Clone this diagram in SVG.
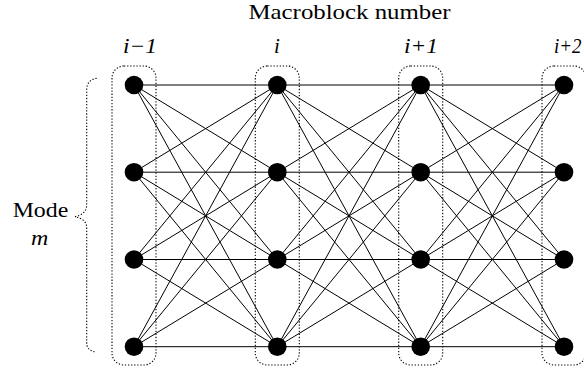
<svg xmlns="http://www.w3.org/2000/svg" width="584" height="372" viewBox="0 0 584 372">
<style>
.edge{stroke:#000;stroke-width:1;fill:none}
.dot{fill:none;stroke:#000;stroke-width:1.1;stroke-dasharray:1.3 1.8}
.node{fill:#000}
text{font-family:'Liberation Serif','DejaVu Serif',serif;font-size:21px;fill:#000}
.it{font-style:italic}
</style>
<rect width="584" height="372" fill="#fff"/>
<g id="title"><text x="248.5" y="18.8" textLength="202" lengthAdjust="spacingAndGlyphs">Macroblock number</text></g>
<g id="col-labels">
<text class="it" x="123" y="53.3" textLength="34" lengthAdjust="spacingAndGlyphs">i−1</text>
<text class="it" x="274" y="53.3">i</text>
<text class="it" x="404" y="53.3" textLength="34" lengthAdjust="spacingAndGlyphs">i+1</text>
<text class="it" x="554" y="53.3" textLength="27.5" lengthAdjust="spacingAndGlyphs">i+2</text>
</g>
<g id="mode-label">
<text x="12.7" y="216.7" textLength="55.6" lengthAdjust="spacingAndGlyphs">Mode</text>
<text class="it" x="31" y="245" textLength="17.3" lengthAdjust="spacingAndGlyphs">m</text>
<path class="dot" d="M96.7,78.3 Q86.7,80 86.7,90 L86.7,205 Q86.7,214 75,216.7 Q86.7,219 86.7,228 L86.7,343 Q86.7,351 96.5,352"/>
</g>
<g id="groups">
<rect class="dot" x="112" y="66" width="44" height="299" rx="12"/>
<rect class="dot" x="255.3" y="66" width="44" height="299" rx="12"/>
<rect class="dot" x="398.7" y="66" width="44" height="299" rx="12"/>
<rect class="dot" x="542" y="66" width="44" height="299" rx="12"/>
</g>
<g id="connectors" class="edge">
<line x1="134" y1="85" x2="277.3" y2="85"/><line x1="134" y1="85" x2="277.3" y2="172.2"/><line x1="134" y1="85" x2="277.3" y2="259.5"/><line x1="134" y1="85" x2="277.3" y2="346.7"/>
<line x1="134" y1="172.2" x2="277.3" y2="85"/><line x1="134" y1="172.2" x2="277.3" y2="172.2"/><line x1="134" y1="172.2" x2="277.3" y2="259.5"/><line x1="134" y1="172.2" x2="277.3" y2="346.7"/>
<line x1="134" y1="259.5" x2="277.3" y2="85"/><line x1="134" y1="259.5" x2="277.3" y2="172.2"/><line x1="134" y1="259.5" x2="277.3" y2="259.5"/><line x1="134" y1="259.5" x2="277.3" y2="346.7"/>
<line x1="134" y1="346.7" x2="277.3" y2="85"/><line x1="134" y1="346.7" x2="277.3" y2="172.2"/><line x1="134" y1="346.7" x2="277.3" y2="259.5"/><line x1="134" y1="346.7" x2="277.3" y2="346.7"/>
<line x1="277.3" y1="85" x2="420.7" y2="85"/><line x1="277.3" y1="85" x2="420.7" y2="172.2"/><line x1="277.3" y1="85" x2="420.7" y2="259.5"/><line x1="277.3" y1="85" x2="420.7" y2="346.7"/>
<line x1="277.3" y1="172.2" x2="420.7" y2="85"/><line x1="277.3" y1="172.2" x2="420.7" y2="172.2"/><line x1="277.3" y1="172.2" x2="420.7" y2="259.5"/><line x1="277.3" y1="172.2" x2="420.7" y2="346.7"/>
<line x1="277.3" y1="259.5" x2="420.7" y2="85"/><line x1="277.3" y1="259.5" x2="420.7" y2="172.2"/><line x1="277.3" y1="259.5" x2="420.7" y2="259.5"/><line x1="277.3" y1="259.5" x2="420.7" y2="346.7"/>
<line x1="277.3" y1="346.7" x2="420.7" y2="85"/><line x1="277.3" y1="346.7" x2="420.7" y2="172.2"/><line x1="277.3" y1="346.7" x2="420.7" y2="259.5"/><line x1="277.3" y1="346.7" x2="420.7" y2="346.7"/>
<line x1="420.7" y1="85" x2="564" y2="85"/><line x1="420.7" y1="85" x2="564" y2="172.2"/><line x1="420.7" y1="85" x2="564" y2="259.5"/><line x1="420.7" y1="85" x2="564" y2="346.7"/>
<line x1="420.7" y1="172.2" x2="564" y2="85"/><line x1="420.7" y1="172.2" x2="564" y2="172.2"/><line x1="420.7" y1="172.2" x2="564" y2="259.5"/><line x1="420.7" y1="172.2" x2="564" y2="346.7"/>
<line x1="420.7" y1="259.5" x2="564" y2="85"/><line x1="420.7" y1="259.5" x2="564" y2="172.2"/><line x1="420.7" y1="259.5" x2="564" y2="259.5"/><line x1="420.7" y1="259.5" x2="564" y2="346.7"/>
<line x1="420.7" y1="346.7" x2="564" y2="85"/><line x1="420.7" y1="346.7" x2="564" y2="172.2"/><line x1="420.7" y1="346.7" x2="564" y2="259.5"/><line x1="420.7" y1="346.7" x2="564" y2="346.7"/>
</g>
<g id="col0">
<circle id="n0-0" class="node" cx="134" cy="85" r="9.3"/><circle id="n0-1" class="node" cx="134" cy="172.2" r="9.3"/><circle id="n0-2" class="node" cx="134" cy="259.5" r="9.3"/><circle id="n0-3" class="node" cx="134" cy="346.7" r="9.3"/>
</g>
<g id="col1">
<circle id="n1-0" class="node" cx="277.3" cy="85" r="9.3"/><circle id="n1-1" class="node" cx="277.3" cy="172.2" r="9.3"/><circle id="n1-2" class="node" cx="277.3" cy="259.5" r="9.3"/><circle id="n1-3" class="node" cx="277.3" cy="346.7" r="9.3"/>
</g>
<g id="col2">
<circle id="n2-0" class="node" cx="420.7" cy="85" r="9.3"/><circle id="n2-1" class="node" cx="420.7" cy="172.2" r="9.3"/><circle id="n2-2" class="node" cx="420.7" cy="259.5" r="9.3"/><circle id="n2-3" class="node" cx="420.7" cy="346.7" r="9.3"/>
</g>
<g id="col3">
<circle id="n3-0" class="node" cx="564" cy="85" r="9.3"/><circle id="n3-1" class="node" cx="564" cy="172.2" r="9.3"/><circle id="n3-2" class="node" cx="564" cy="259.5" r="9.3"/><circle id="n3-3" class="node" cx="564" cy="346.7" r="9.3"/>
</g>
</svg>
